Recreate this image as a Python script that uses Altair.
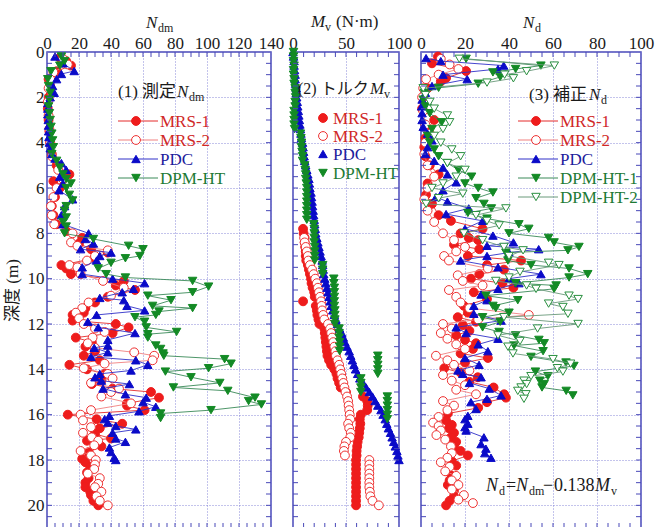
import altair as alt
import pandas as pd

# ---------------- data ----------------
# Panel 1: measured N_dm
P1_MRS1_D = [0.25,0.4,0.6,0.85,1.2,1.5,2.0,2.5,3.0,3.5,4.0,4.5,5.0,5.4,5.7,6.0,6.4,6.8,7.2,7.6,7.9,8.2,8.45,8.7,8.85,9.1,9.4,9.55,9.8,10.1,10.3,10.5,10.8,11.05,11.3,11.5,11.6,11.85,12.0,12.15,12.4,12.6,12.8,13.0,13.2,13.4,13.6,13.8,14.0,14.2,14.5,14.65,14.85,15.0,15.25,15.5,15.6,15.8,16.0,16.2,16.4,16.6,16.85,17.05,17.15,17.4,17.65,17.95,18.1,18.3,18.55,18.8,19.0,19.2,19.4,19.55,19.8,20.0]
P1_MRS1_V = [8,12,15,6,1,2,1,0.5,1,1.5,2,3,6,14,4,8,5,3,4,6,12,22,20,27.5,38,30,9,12,15,48,43,55,38,30,24,23,16,16,43,51,41,18,28,24,30,23,33,14,25,36,34,28,41,65,70,50,50,61,13,31,47,33,30,40,25,34,26,22,24,27,25,26,24,24,27,27.5,29,32]
P1_MRS2_D = [0.3,0.55,0.9,1.2,1.6,2.2,2.8,3.4,4.0,4.6,5.2,5.6,6.0,6.4,6.8,7.2,7.6,8.0,8.4,8.55,8.75,9.0,9.2,9.4,9.5,9.8,10.1,10.4,10.75,11.05,11.3,11.5,11.75,12.0,12.2,12.35,12.6,12.85,13.05,13.25,13.4,13.6,13.75,13.95,14.2,14.4,14.6,14.85,15.0,15.2,15.5,15.8,16.0,16.25,16.55,16.8,17.0,17.15,17.35,17.6,17.8,18.0,18.2,18.4,18.6,18.8,19.05,19.2,19.4,19.6,19.8,20.0]
P1_MRS2_V = [10,13,4,2,1,0.5,1,1.5,2,3,7,10,6,4,2.5,3,4.5,16,15,19,38,30,25,14,19,21,35,48,40,26,22,18,20,23,30,36,28.5,25.5,30,54.5,67,66,36,23,38,41,27.5,45,40,34,52.5,27.5,21,22.5,27.5,22.5,28,32,29.5,21,27.5,30.5,30,29.5,25.5,33,32,30,34,31,33,38]
P1_PDC_D = [0.2,0.5,0.84,0.97,1.2,1.5,1.8,2.0,2.25,2.5,2.75,3.0,3.25,3.5,3.75,4.0,4.25,4.5,4.7,4.9,5.2,5.5,5.8,6.1,6.5,6.8,7.2,7.6,8.0,8.25,8.45,8.7,8.85,9.0,9.2,9.5,9.8,10.0,10.2,10.45,10.6,10.85,10.95,11.2,11.4,11.6,11.9,12.15,12.4,12.7,12.95,13.05,13.25,13.45,13.6,13.8,14.05,14.2,14.35,14.5,14.65,14.85,15.1,15.25,15.45,15.65,15.85,16.05,16.2,16.35,16.5,16.65,16.8,17.05,17.2,17.45,17.65,17.9,18.0]
P1_PDC_V = [5,10,17,9,6,3.5,4.5,2,0.5,0.5,0.5,0.8,1,1,1.2,1.5,2,3,5,9,12,8,10,7.5,16,11,9,10,26,24,29,21,40,33,31,22,22,41,61,54,47,33,48,50,61,31,25.5,32,55,38,38,29.5,38,27.5,55.5,63,52.5,33,30,34,51.5,35,49,62,60,68,57.5,39,36,38,43,55.5,41,43,49,39,40,42,43]
P1_DPM_D = [0.2,0.4,0.6,0.85,1.2,1.5,1.8,2.1,2.4,2.7,3.0,3.3,3.6,3.9,4.2,4.5,4.8,5.1,5.4,5.6,5.8,6.0,6.3,6.55,6.8,7.0,7.3,7.5,7.7,8.0,8.25,8.55,8.7,9.0,9.1,9.3,9.55,9.8,9.95,10.1,10.35,10.6,10.75,10.95,11.2,11.3,11.45,11.6,11.7,11.9,12.15,12.35,12.45,12.6,12.95,13.1,13.3,13.4,13.55,13.75,13.95,14.1,14.35,14.6,14.8,14.95,15.25,15.4,15.55,15.8,15.95,16.15]
P1_DPM_V = [9,11,8,2.5,0.5,1,2,1.5,1,1.5,2,2.5,3,3.5,4,3,6,8,10,12,15,12,14,16,12,11,12,10,12,11,29,51,60,58,49,40,32,37,49,91,101,91,63,77.5,66,91,70,68,55,61,62,81,63,63,68,71,72.5,73,111,115,101,74,90,108,79,113,130,126,134,102.5,71,71]

# Panel 2: torque M_v (sampled every 0.2 m)
DEPTH_GRID = [0.0,0.2,0.4,0.6,0.8,1.0,1.2,1.4,1.6,1.8,
              2.0,2.2,2.4,2.6,2.8,3.0,3.2,3.4,3.6,3.8,
              4.0,4.2,4.4,4.6,4.8,5.0,5.2,5.4,5.6,5.8,
              6.0,6.2,6.4,6.6,6.8,7.0,7.2,7.4,7.6,7.8,
              8.0,8.2,8.4,8.6,8.8,9.0,9.2,9.4,9.6,9.8,
              10.0,10.2,10.4,10.6,10.8,11.0,11.2,11.4,11.6,11.8,
              12.0,12.2,12.4,12.6,12.8,13.0,13.2,13.4,13.6,13.8,
              14.0,14.2,14.4,14.6,14.8,15.0,15.2,15.4,15.6,15.8,
              16.0,16.2,16.4,16.6,16.8,17.0,17.2,17.4,17.6,17.8,
              18.0,18.2,18.4,18.6,18.8,19.0,19.2,19.4,19.6,19.8,
              20.0]
P2_MRS1_D = DEPTH_GRID[39:101]
P2_MRS1_V = [9.5,10,11,11,11.5,12,12,12.5,14,15,
             16,17,17.5,18.5,20,20.5,9.5,21.5,22.5,23,
             24,25,29.5,30,30.5,31,31.5,32,32.5,34,
             36,39,41,42,43.5,45,50,66,70,70.5,
             70,64,63,63.5,63,62.5,62,61,60.5,60,
             60,59.5,59.5,59.5,59.5,59.5,59.5,59.5,59.5,59.5,
             59.5,59.5]
P2_MRS2_D = DEPTH_GRID[41:101]
P2_MRS2_V = [10.5,11,12,13,14,14.5,16,18,19.5,21,
             22.5,23.5,24.5,25.5,26.5,27,27.5,28.5,29.5,33,
             35,36,37,38,39,40,40.5,42,43.5,44.5,
             45.5,46.5,47.5,48.5,49.5,51,52,52.5,53,53.5,
             54,52,53,54.5,54,50,48.5,48,49,72,
             72,72,72,72,72,72,72.5,73,75,81]
P2_PDC_D = DEPTH_GRID[0:91]
P2_PDC_V = [0,0.5,1,1,1.5,2,2,2.5,3,3,
            3.5,4,4.5,5,5.5,6,6.5,7,7.5,8,
            9,9.5,10,10.5,11,12,13,14,15,15.5,
            16,17,17.5,18,18.5,19,19.5,20,20.5,21,
            21.5,22.5,23.5,24.5,25.5,26.5,27.5,28,28.5,29,
            30,31,32,33,34,35,36,37.5,39,40.5,
            42,44,46,47.5,49,51,53,54.5,56,57.5,
            59,61,63,66,69,72,75,77.5,80,83,
            85,87,88.5,90,92,93.5,95,96.5,98,99,
            100]
P2_DPM_D = DEPTH_GRID[0:82]
P2_DPM_V = [0.5,0.5,0.5,1,0.5,0.5,1,1,
            2,2,2.5,2,2,
            1,1,1,1,1.5,
            7,7.5,8,8,8.5,9,9,
            11,11.5,12,12,12.5,13,13,13,
            13,13,13,13,13,
            19.5,20,20,20,20,20.5,20.5,20.5,20.5,
            28,28,28,
            38.5,38.5,39,39,39,39,39,39.5,39.5,39.5,39.5,
            43.5,43.5,43.5,44,44,44,
            80,80,80,80,80,
            64,64,64,64,
            89,89,89,89,89,89]

# Panel 3: corrected N_d
P3_MRS1_D = [0.2,0.5,0.84,1.15,1.3,1.6,2.0,2.5,3.0,3.4,3.8,4.2,4.6,5.0,5.4,5.8,6.3,6.7,7.2,7.45,7.8,8.0,8.2,8.3,8.5,8.7,9.0,9.2,9.4,9.6,9.8,10.0,10.2,10.4,10.6,10.9,11.2,11.5,11.7,11.9,12.05,12.3,12.5,12.7,12.85,13.1,13.3,13.5,13.7,13.95,14.15,14.35,14.55,14.8,15.1,15.25,15.45,15.7,15.95,16.25,16.45,16.6,16.8,17.0,17.2,17.45,17.6,17.8,18.05,18.25,18.5,18.7,18.9,19.1,19.35,19.6,19.8,20.0]
P3_MRS1_V = [7.7,5,20.5,11.4,9,3,1,0.5,6,3,2,1.5,2,4,8,3,2.3,5,8,13.6,28,18,21.7,26,15,26.5,21.3,45.5,30,37.7,26.5,22.7,37,42,24,30,19.5,21.3,16.7,25,19,22,16,20,25,23.6,18,30.4,20,10.6,18,25.8,22,33,37.8,38.6,30,26,12.2,11.4,14,12.7,15,13.6,16,15,18,21.3,14,16,12,14,13,12.2,15,15,13,11.4]
P3_MRS2_D = [0.3,0.55,0.75,1.0,1.2,1.6,2.0,2.6,3.2,3.6,4.0,4.5,5.0,5.5,6.0,6.5,7.0,7.5,8.0,8.3,8.6,8.8,9.0,9.2,9.55,9.85,10.1,10.3,10.5,10.8,11.05,11.3,11.6,11.8,12.0,12.2,12.4,12.65,12.9,13.1,13.4,13.6,13.8,14.05,14.25,14.5,14.7,14.9,15.1,15.4,15.6,15.8,16.1,16.35,16.5,16.7,16.9,17.1,17.4,17.7,17.9,18.1,18.3,18.5,18.7,18.9,19.1,19.3,19.55,19.75,19.9]
P3_MRS2_V = [9,13,17,8,2.3,1,0.5,1,2,4,2,1.5,3,6,3,1.5,3,6,10,15,20,16,10.5,12.7,30.4,16.7,19,28,12.7,16,18,22,49,26,10,14,9,12,16,20,6.8,12,15,22,10,14,20,16,25,10,15,12,8,5.5,8,9,7,11,13.6,14,12,9,13,11,16,14,17,14,19.5,17,23.6]
P3_PDC_D = [0.27,0.4,0.6,0.75,1.0,1.2,1.5,1.8,2.1,2.4,2.7,3.0,3.3,3.6,3.9,4.2,4.5,4.8,5.1,5.4,5.75,6.1,6.4,6.6,6.9,7.15,7.45,7.8,8.1,8.4,8.55,8.7,8.85,9.0,9.2,9.5,9.8,10.0,10.2,10.45,10.7,10.95,11.2,11.55,11.85,12.15,12.4,12.65,12.9,13.2,13.5,13.8,14.05,14.2,14.35,14.6,14.85,15.15,15.3,15.45,15.75,16.05,16.2,16.4,16.55,16.7,17.0,17.3,17.5,17.7,17.9]
P3_PDC_V = [2.3,9,37.6,35,10,21,5,2,0.5,0.3,0.5,0.5,1,3,5,3,2,6,10,12,16,10,6.8,12,21.7,11.4,28,20,32.7,42,30,53.5,40,30,18,35,54.5,40,44.5,35,27.3,30,24,24,36.4,16,20.5,35,26,30.4,20,26.4,16.8,19,27.3,22,31,36.4,30,22.7,25,21.3,20,21.3,20,20.5,28.6,27.3,29.5,29,31.8]
P3_DPM1_D = [0.3,0.6,0.75,0.9,1.1,1.4,1.58,1.8,2.1,2.4,2.7,3.1,3.4,3.7,4.0,4.3,4.6,4.9,5.2,5.5,5.8,6.0,6.2,6.45,6.7,6.9,7.1,7.35,7.6,7.8,8.0,8.2,8.4,8.6,8.75,8.85,9.2,9.4,9.55,9.8,9.95,10.2,10.3,10.45,10.75,10.95,11.2,11.3,11.5,11.7,11.9,12.15,12.35,12.5,12.7,12.85,12.95,13.2,13.45,13.7,13.85,14.1,14.3,14.5,14.65,14.8,14.95,15.15]
P3_DPM1_V = [20.5,54.5,43,32.7,36,26,8,1.5,1,2,4,9.4,5,3,4,6,8,12,17,23,20,26,32.7,25,28.6,32,21.3,30,44.5,49,40,58,60.5,71.8,66.8,38.6,39.5,50,67.3,75.8,67.3,43,61.4,60.5,29.5,44,32.7,34,40,28,36,28,35.5,43,53.6,56,42.3,55.5,50,65.9,69.5,52,57.7,54,56,55,66,69]
P3_DPM2_D = [0.3,0.6,0.85,1.0,1.16,1.35,1.6,1.9,2.2,2.5,2.8,3.1,3.4,3.7,4.0,4.3,4.6,4.9,5.2,5.5,5.8,6.0,6.25,6.45,6.7,6.9,7.2,7.45,7.65,8.0,8.3,8.6,8.75,9.0,9.3,9.4,9.7,9.95,10.1,10.3,10.45,10.75,10.9,11.1,11.25,11.55,11.7,12.0,12.2,12.5,12.75,13.0,13.3,13.55,13.75,13.95,14.1,14.3,14.5,14.65,14.8,14.95,15.1,15.3]
P3_DPM2_V = [17.4,60.6,48,38,42,30,1,2,4,6,12,13,10,6,9,14,18,12,20,16,10,5,19,8,2.3,38.6,25,30,35.5,19.5,28,37.7,46.4,40,58,62.7,45,40,34,48,52.3,67.3,71.4,58,64.5,66.8,37.7,71.4,53,35,45,39.5,41.8,60,68,62,64.5,50,46.8,48,45.5,44,47.7,46.8]

# axis tick values
Y_LABELS = [0, 2, 4, 6, 8, 10, 12, 14, 16, 18, 20]
Y_MINOR = [x / 2 for x in range(1, 42)]
P1_XLABELS = [0, 20, 40, 60, 80, 100, 120, 140]
P1_XMINOR = list(range(5, 140, 5))
P2_XLABELS = [0, 50, 100]
P2_XMINOR = list(range(10, 100, 10))
P3_XLABELS = [0, 20, 40, 60, 80, 100]
P3_XMINOR = list(range(5, 100, 5))

P1_SERIES = ["MRS-1", "MRS-2", "PDC", "DPM-HT"]
P2_SERIES = ["MRS-1", "MRS-2", "PDC", "DPM-HT"]
P3_SERIES = ["MRS-1", "MRS-2", "PDC", "DPM-HT-1", "DPM-HT-2"]

# ---------------- styles ----------------
FONT = "Liberation Serif, Noto Sans CJK JP, serif"
FRAME = "#4848b8"
GRID = "#7c7cd4"
H = 476
Y_DOMAIN = [0, 21]

STYLE = {
    "MRS-1": dict(shape="circle", fill="#ee1c1c", stroke="#ee1c1c", line="#e42a2a", text="#d02828", size=78),
    "MRS-2": dict(shape="circle", fill="#ffffff", stroke="#ee3030", line="#f08080", text="#d02828", size=78),
    "PDC": dict(shape="triangle-up", fill="#0a0ac8", stroke="#0a0ac8", line="#3030c8", text="#1c1c9c", size=72),
    "DPM-HT": dict(shape="triangle-down", fill="#138a25", stroke="#138a25", line="#3a8a58", text="#1d7a34", size=72),
    "DPM-HT-1": dict(shape="triangle-down", fill="#138a25", stroke="#138a25", line="#3a8a58", text="#1d7a34", size=72),
    "DPM-HT-2": dict(shape="triangle-down", fill="#ffffff", stroke="#2a9040", line="#6a9a7a", text="#1d7a34", size=72),
}


def x_axis(vals):
    return alt.Axis(orient="top", values=vals, title=None, labelFontSize=17, labelFont=FONT,
                    labelColor="#1a1a1a", ticks=False, tickSize=0, domain=False, grid=True,
                    gridColor=GRID, gridDash=[1, 2], gridWidth=0.9, labelPadding=0,
                    labelFlush=False, labelOverlap=False)


def y_axis(show):
    if show:
        return alt.Axis(orient="left", values=Y_LABELS, title="深度 (m)", titleFont=FONT, titleFontSize=17,
                        titleFontWeight="normal", titleColor="#1a1a1a", labelFontSize=17, labelFont=FONT,
                        labelColor="#1a1a1a", ticks=False, tickSize=0, domain=False, grid=True,
                        gridColor=GRID, gridDash=[1, 2], gridWidth=0.9, labelPadding=3, titlePadding=6,
                        labelFlush=False, labelOverlap=False)
    return alt.Axis(orient="left", values=Y_LABELS, title=None, labels=False, ticks=False, tickSize=0,
                    domain=False, grid=True, gridColor=GRID, gridDash=[1, 2], gridWidth=0.9)


def series_layers(name, depth, value, xs, ys, draw_line, ax, ay):
    df = pd.DataFrame({"depth": depth, "value": value})
    st = STYLE[name]
    enc = dict(x=alt.X("value:Q", scale=xs, axis=ax), y=alt.Y("depth:Q", scale=ys, axis=ay))
    out = []
    if draw_line:
        out.append(alt.Chart(df).mark_line(color=st["line"], strokeWidth=0.9).encode(
            order=alt.Order("depth:Q"), **enc))
    out.append(alt.Chart(df).mark_point(shape=st["shape"], filled=True, fill=st["fill"], stroke=st["stroke"],
                                        strokeWidth=1, size=st["size"], opacity=1).encode(**enc))
    return out


def tick_layers(xs, ys, xminor, W, ax, ay):
    dfx = pd.DataFrame({"value": xminor})
    dfy = pd.DataFrame({"depth": Y_MINOR})
    r = dict(color=FRAME, strokeWidth=1)
    X = alt.X("value:Q", scale=xs, axis=ax)
    Y = alt.Y("depth:Q", scale=ys, axis=ay)
    return [
        alt.Chart(dfx).mark_rule(**r).encode(x=X, y=alt.value(0), y2=alt.value(5)),
        alt.Chart(dfx).mark_rule(**r).encode(x=X, y=alt.value(H - 5), y2=alt.value(H)),
        alt.Chart(dfy).mark_rule(**r).encode(y=Y, x=alt.value(0), x2=alt.value(5)),
        alt.Chart(dfy).mark_rule(**r).encode(y=Y, x=alt.value(W - 5), x2=alt.value(W)),
    ]


def txt(s, x, y, size=17, italic=False, color="#1a1a1a", baseline="alphabetic"):
    return alt.Chart(pd.DataFrame({"t": [s]})).mark_text(
        align="left", baseline=baseline, fontSize=size, font=FONT,
        fontStyle="italic" if italic else "normal", color=color).encode(
        x=alt.value(x), y=alt.value(y), text="t:N")


def legend(names, rows, x1, xm, x2, xt, with_line):
    out = []
    for n, yy in zip(names, rows):
        st = STYLE[n]
        one = pd.DataFrame({"s": [n]})
        if with_line:
            out.append(alt.Chart(one).mark_rule(color=st["line"], strokeWidth=1).encode(
                x=alt.value(x1), x2=alt.value(x2), y=alt.value(yy)))
        out.append(alt.Chart(one).mark_point(shape=st["shape"], filled=True, fill=st["fill"], stroke=st["stroke"],
                                             strokeWidth=1, size=st["size"], opacity=1).encode(
            x=alt.value(xm), y=alt.value(yy)))
        out.append(alt.Chart(one).mark_text(align="left", baseline="middle", fontSize=17, font=FONT,
                                            color=st["text"]).encode(
            x=alt.value(xt), y=alt.value(yy + 1), text="s:N"))
    return out


ys = alt.Scale(domain=Y_DOMAIN, reverse=True, nice=False, zero=False)

# ---------------- panel 1 ----------------
W1 = 224
xs1 = alt.Scale(domain=[0, 140], nice=False, zero=False)
AX1, AY1 = x_axis(P1_XLABELS), y_axis(True)
L1 = []
p1data = [("MRS-1", P1_MRS1_D, P1_MRS1_V), ("MRS-2", P1_MRS2_D, P1_MRS2_V),
          ("PDC", P1_PDC_D, P1_PDC_V), ("DPM-HT", P1_DPM_D, P1_DPM_V)]
for n, d, v in p1data:
    L1 += series_layers(n, d, v, xs1, ys, True, AX1, AY1)
L1 += tick_layers(xs1, ys, P1_XMINOR, W1, AX1, AY1)
L1 += [txt("N", 99, -24, 17, True), txt("dm", 111, -20, 12)]
L1 += [txt("(1) 測定", 71, 45, 17), txt("N", 130, 45, 17, True), txt("dm", 142, 49, 12)]
L1 += legend(P1_SERIES, [69, 88, 107, 126], 71, 89, 111, 113, True)
L1.append(alt.Chart(pd.DataFrame({"a": [0]})).mark_square(size=1, color="white", opacity=1).encode(
    x=alt.value(-45.5), y=alt.value(-50.5)))
panel1 = alt.layer(*L1).properties(width=W1, height=H)

# ---------------- panel 2 ----------------
W2 = 106
xs2 = alt.Scale(domain=[0, 100], nice=False, zero=False)
AX2, AY2 = x_axis(P2_XLABELS), y_axis(False)
L2 = []
p2data = [("MRS-1", P2_MRS1_D, P2_MRS1_V), ("MRS-2", P2_MRS2_D, P2_MRS2_V),
          ("PDC", P2_PDC_D, P2_PDC_V), ("DPM-HT", P2_DPM_D, P2_DPM_V)]
for n, d, v in p2data:
    L2 += series_layers(n, d, v, xs2, ys, False, AX2, AY2)
L2 += tick_layers(xs2, ys, P2_XMINOR, W2, AX2, AY2)
L2 += [txt("M", 18, -25, 17, True), txt("v", 32, -21, 12), txt("(N·m)", 43, -25, 17)]
L2 += [txt("(2) トルク", 5, 42, 16), txt("M", 77, 42, 17, True), txt("v", 91, 46, 12)]
L2 += legend(P2_SERIES, [66, 84, 102, 121], 0, 30, 0, 40, False)
panel2 = alt.layer(*L2).properties(width=W2, height=H)

# ---------------- panel 3 ----------------
W3 = 220
xs3 = alt.Scale(domain=[0, 100], nice=False, zero=False)
AX3, AY3 = x_axis(P3_XLABELS), y_axis(False)
L3 = []
p3data = [("MRS-1", P3_MRS1_D, P3_MRS1_V), ("MRS-2", P3_MRS2_D, P3_MRS2_V),
          ("PDC", P3_PDC_D, P3_PDC_V), ("DPM-HT-1", P3_DPM1_D, P3_DPM1_V),
          ("DPM-HT-2", P3_DPM2_D, P3_DPM2_V)]
for n, d, v in p3data:
    L3 += series_layers(n, d, v, xs3, ys, True, AX3, AY3)
L3 += tick_layers(xs3, ys, P3_XMINOR, W3, AX3, AY3)
L3 += [txt("N", 102, -24, 17, True), txt("d", 114, -20, 12)]
L3 += [txt("(3) 補正", 108, 48, 17), txt("N", 168, 48, 17, True), txt("d", 180, 52, 12)]
L3 += legend(P3_SERIES, [69, 88, 107, 126, 145], 97, 115, 137, 139, True)
L3 += [txt("N", 65, 439, 18, True), txt("d", 78, 443, 12), txt("=", 85, 439, 18),
       txt("N", 95, 439, 18, True), txt("dm", 108, 443, 12), txt("−", 122, 439, 18),
       txt("0.138", 133, 439, 18), txt("M", 174, 439, 18, True), txt("v", 190, 443, 12)]
panel3 = alt.layer(*L3).properties(width=W3, height=H)

chart = alt.hconcat(panel1, panel2, panel3, spacing=22, bounds="flush").properties(
    padding=0, background="white"
).configure_view(stroke=FRAME, strokeWidth=1.5)

chart.save("out.html", embed_options={"renderer": "svg", "actions": False})
